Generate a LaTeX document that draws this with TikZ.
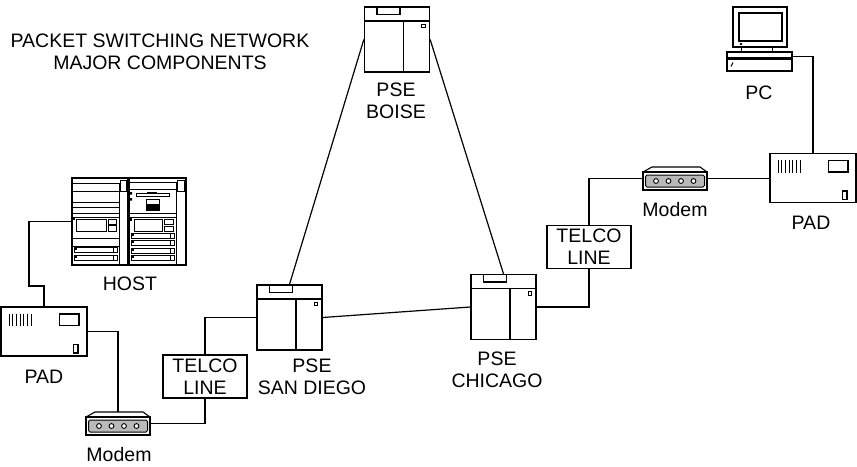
\documentclass[tikz,border=0pt]{standalone}
\usepackage{fontspec}
\setmainfont{Liberation Sans}
\tikzset{
  wire/.style={line width=1.2pt},
  outline/.style={draw,line width=1.3pt},
  psebox/.style={outline,minimum width=65pt,minimum height=65pt,inner sep=0pt},
  padbox/.style={outline,minimum width=86pt,minimum height=49pt,inner sep=0pt},
  modembox/.style={minimum width=64pt,minimum height=23pt,inner sep=0pt},
  telcobox/.style={outline,minimum width=84pt,minimum height=43pt,inner sep=0pt,align=center},
  lbl/.style={inner sep=0pt,align=center},
  % inside of a packet switching exchange cabinet
  pseinner/.pic={
    \draw[line width=1.2pt] (-32.5,-18.5) -- (32.5,-18.5) (6.5,-18.5) -- (6.5,32.5);
    \draw[line width=1.1pt] (-20,-32.5) rectangle (3,-25);
    \draw[line width=0.9pt] (24.5,-15.5) rectangle (28,-12);
  },
  % front panel of a PAD
  padinner/.pic={
    \foreach \i in {0,...,6}
      \draw[line width=1pt] (-35+3.7*\i,-18) -- (-35+3.7*\i,-5.5);
    \draw[line width=1.1pt] (15.5,-17.5) rectangle (35,-6);
    \draw[line width=1.1pt] (29.5,13) rectangle (34,21.5);
  },
  % modem body with its lamp strip
  modemshape/.pic={
    \draw[line width=1.1pt] (-32,-6.5) -- (-23,-11.5) -- (25,-11.5) -- (32,-6.5);
    \draw[line width=1.2pt] (-32,-6.5) rectangle (32,11.5);
    \draw[line width=1pt,fill=gray!55,rounded corners=1.5pt] (-29.5,-3.5) rectangle (29.5,8.5);
    \foreach \cx in {-19,-6.5,6,18.5}
      \draw[line width=0.9pt,fill=white] (\cx,2.5) circle[radius=2.4pt];
  }
}
\begin{document}
\begin{tikzpicture}[x=1pt,y=-1pt,font=\fontsize{19.5}{22}\selectfont]
\useasboundingbox (0,0) rectangle (857,466);

% ---- exchanges ----
\node[psebox] (boise) at (397,39.5) {};
\pic at (boise) {pseinner};
\node[psebox] (sandiego) at (289.5,317.5) {};
\pic at (sandiego) {pseinner};
\node[psebox] (chicago) at (503.5,307) {};
\pic at (chicago) {pseinner};

% ---- telco lines ----
\node[telcobox] (telco1) at (205,376.5) {TELCO\\LINE};
\node[telcobox] (telco2) at (589,247) {TELCO\\LINE};

% ---- PADs ----
\node[padbox] (pad1) at (44,331.5) {};
\pic at (pad1) {padinner};
\node[padbox] (pad2) at (813,178) {};
\pic at (pad2) {padinner};

% ---- modems ----
\node[modembox] (modem1) at (118,423.5) {};
\pic at (modem1) {modemshape};
\node[modembox] (modem2) at (675,178.5) {};
\pic at (modem2) {modemshape};

% ---- host computer: two cabinets ----
\node[minimum width=114pt,minimum height=87pt,inner sep=0pt] (host) at (129,221.5) {};
\begin{scope}[line width=0.8pt]
  % left cabinet
  \draw[line width=1.1pt] (72,178) rectangle (128,265);
  \draw (72,183) -- (119,183) (119,183) -- (119,265);
  \draw (120.5,180) rectangle (126.5,191);
  \foreach \yy in {191,202,207,213,217,238,246}
    \draw (72,\yy) -- (119,\yy);
  \draw (76,219) rectangle (106,231);
  \draw (108,219) rectangle (116,224) (108,225.5) rectangle (116,231);
  \fill (72.5,217.5) rectangle (75,220);
  \foreach \yy in {247.5,255.5} {
    \draw (74,\yy) rectangle (117,\yy+5);
    \fill (74,\yy) rectangle (77,\yy+2.5);
    \draw (113,\yy) rectangle (117,\yy+5);
  }
  % right cabinet
  \draw[line width=1.1pt] (129,178) rectangle (186,265);
  \draw (129,182) -- (176,182) (176,182) -- (176,265);
  \draw (129,189) -- (176,189);
  \draw (177.5,180) rectangle (184,191);
  \draw (136,193) rectangle (169,196.5);
  \fill (147,191.5) rectangle (157,194);
  \draw (146,199) rectangle (159,210);
  \fill (146,204) rectangle (159,210);
  \fill (129.5,192) rectangle (132,194.5) (129.5,198) rectangle (132,200.5);
  \draw (129,213) -- (176,213) (129,217) -- (176,217);
  \draw (134,219) rectangle (162,231);
  \draw (164,219) rectangle (173,224) (164,226) rectangle (173,231);
  \fill (129.5,218) rectangle (132,220.5);
  \foreach \yy in {233,240.5,248,255.5} {
    \draw (131,\yy) rectangle (174,\yy+5);
    \fill (131,\yy) rectangle (134,\yy+2.5);
    \draw (170,\yy) rectangle (174,\yy+5);
  }
\end{scope}

% ---- personal computer ----
\node[outline,line width=1.1pt,minimum width=65pt,minimum height=19pt,inner sep=0pt] (pc) at (759.5,61.5) {};
\draw[line width=1.1pt] (733,7) rectangle (787,47);
\draw[line width=2pt] (738.5,12.5) rectangle (781.5,40.5);
\fill (741,44) circle[radius=1.3pt];
\draw[line width=1pt] (741,47) rectangle (772,52);
\fill (727,56.5) rectangle (792,59.5);
\draw[line width=1pt] (731,66.5) -- (733,62.5);

% ---- connections ----
\draw[wire] (boise.west) -- (sandiego.north);
\draw[wire] (boise.east) -- (chicago.north);
\draw[wire] (sandiego.east) -- (chicago.west);
\draw[wire] (sandiego.west) -| (telco1.north);
\draw[wire] (telco1.south) |- (modem1.east);
\draw[wire] (pad1.east) -| (modem1.north);
\draw[wire] (chicago.east) -| (telco2.south);
\draw[wire] (telco2.north) |- (modem2.west);
\draw[wire] (modem2.east) -- (modem2.east -| pad2.west);
\draw[wire] (pad2.north) |- ([yshift=5pt]pc.east);
\coordinate (hostbend) at (29,286);
\draw[wire] (host.west) -| (hostbend) -| (pad1.north);

% ---- labels ----
\node[lbl] (title) at (160,52) {PACKET SWITCHING NETWORK\\MAJOR COMPONENTS};
\node[lbl] (boiselbl) at (396,101) {PSE\\BOISE};
\node[lbl] (sdlbl) at (312,377) {PSE\\SAN DIEGO};
\node[lbl] (chilbl) at (497,370) {PSE\\CHICAGO};
\node[lbl] (hostlbl) at (130,284) {HOST};
\node[lbl] (pad1lbl) at (44,377) {PAD};
\node[lbl] (modem1lbl) at (119,455) {Modem};
\node[lbl] (modem2lbl) at (675,210) {Modem};
\node[lbl] (pclbl) at (759,93) {PC};
\node[lbl] (pad2lbl) at (811,223) {PAD};
\end{tikzpicture}
\end{document}
